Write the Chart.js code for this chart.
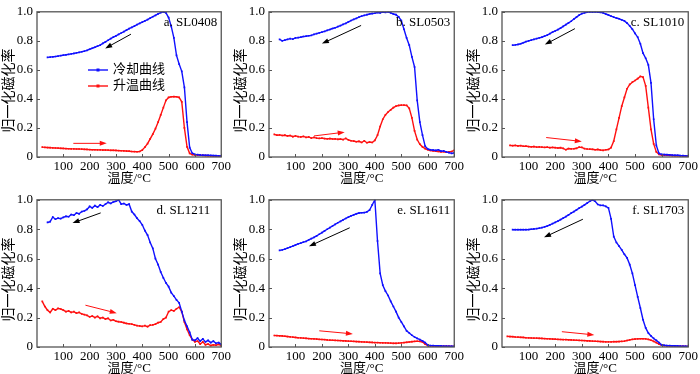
<!DOCTYPE html>
<html>
<head>
<meta charset="utf-8">
<script src="https://cdn.jsdelivr.net/npm/chart.js@4.4.0/dist/chart.umd.min.js"></script>
<style>
  body { margin: 0; background: #fff; }
  #wrap { position: relative; width: 700px; height: 374px; overflow: hidden; }
  #wrap canvas { position: absolute; }
</style>
</head>
<body>
<div id="wrap"></div>
<script>
// temperature grid (°C), shared by every curve
const temps = [20, 30, 40, 50, 60, 70, 80, 90, 100, 110,
  120, 130, 140, 150, 160, 170, 180, 190, 200, 210,
  220, 230, 240, 250, 260, 270, 280, 290, 300, 310,
  320, 330, 340, 350, 360, 370, 380, 390, 400, 410,
  420, 430, 440, 450, 460, 470, 480, 490, 500, 510,
  520, 530, 540, 550, 560, 570, 580, 590, 600, 610,
  620, 630, 640, 650, 660, 670, 680, 690, 700];

const xTicks = [100, 200, 300, 400, 500, 600, 700];
const yTicks = [0, 0.2, 0.4, 0.6, 0.8, 1.0];
const seriesNames = ['冷却曲线', '升温曲线'];
const sampleNames = ['a. SL0408', 'b. SL0503', 'c. SL1010', 'd. SL1211', 'e. SL1611', 'f. SL1703'];

// cooling curves (blue)
const coolA = [null, null, 0.686, 0.688, 0.690, 0.692, 0.695, 0.698, 0.701, 0.704,
  0.707, 0.710, 0.713, 0.717, 0.721, 0.725, 0.729, 0.734, 0.742, 0.749,
  0.756, 0.763, 0.771, 0.782, 0.793, 0.804, 0.815, 0.825, 0.834, 0.844,
  0.854, 0.864, 0.874, 0.884, 0.893, 0.902, 0.911, 0.920, 0.929, 0.938,
  0.946, 0.956, 0.966, 0.976, 0.986, 0.994, 1.0, 0.993, 0.96, 0.90,
  0.82, 0.70, 0.64, 0.59, 0.48, 0.24, 0.065, 0.026, 0.018, 0.016,
  0.014, 0.013, 0.012, 0.012, 0.011, 0.010, 0.009, 0.008, 0.007];
const coolB = [null, null, 0.81, 0.80, 0.805, 0.81, 0.815, 0.812, 0.82, 0.822,
  0.825, 0.83, 0.832, 0.835, 0.838, 0.845, 0.85, 0.855, 0.86, 0.865,
  0.872, 0.878, 0.885, 0.89, 0.898, 0.905, 0.913, 0.92, 0.93, 0.94,
  0.948, 0.955, 0.963, 0.97, 0.975, 0.98, 0.985, 0.988, 0.99, 0.995,
  0.993, 0.998, 0.996, 1.0, 0.992, 0.985, 0.98, 0.965, 0.94, 0.88,
  0.82, 0.77, 0.69, 0.62, 0.39, 0.24, 0.15, 0.075, 0.055, 0.05,
  0.048, 0.045, 0.05, 0.04, 0.042, 0.035, 0.03, 0.025, 0.028];
const coolC = [null, null, 0.77, 0.772, 0.775, 0.78, 0.787, 0.795, 0.80, 0.805,
  0.81, 0.815, 0.82, 0.825, 0.832, 0.84, 0.85, 0.86, 0.868, 0.877,
  0.888, 0.90, 0.912, 0.924, 0.935, 0.95, 0.963, 0.977, 0.987, 0.993,
  0.997, 1.0, 0.998, 1.0, 0.997, 0.996, 0.993, 0.985, 0.978, 0.97,
  0.963, 0.957, 0.952, 0.945, 0.937, 0.922, 0.903, 0.88, 0.852, 0.825,
  0.78, 0.715, 0.68, 0.635, 0.51, 0.26, 0.08, 0.025, 0.018, 0.017,
  0.016, 0.015, 0.013, 0.012, 0.012, 0.01, 0.009, 0.008, 0.007];
const coolD = [null, null, 0.846, 0.852, 0.883, 0.868, 0.875, 0.872, 0.88, 0.888,
  0.885, 0.9, 0.895, 0.91, 0.905, 0.92, 0.925, 0.935, 0.955, 0.945,
  0.96, 0.95, 0.965, 0.958, 0.97, 0.983, 0.975, 0.985, 0.99, 1.0,
  0.97, 0.975, 0.965, 0.97, 0.92, 0.9, 0.875, 0.855, 0.83, 0.79,
  0.76, 0.71, 0.67, 0.6, 0.56, 0.51, 0.47, 0.435, 0.41, 0.37,
  0.345, 0.32, 0.3, 0.24, 0.18, 0.14, 0.1, 0.05, 0.045, 0.06,
  0.04, 0.055, 0.035, 0.045, 0.03, 0.04, 0.025, 0.03, 0.018];
const coolE = [null, null, 0.656, 0.66, 0.665, 0.672, 0.678, 0.685, 0.693, 0.70,
  0.706, 0.712, 0.718, 0.727, 0.736, 0.745, 0.755, 0.766, 0.777, 0.789,
  0.80, 0.811, 0.822, 0.833, 0.844, 0.854, 0.864, 0.873, 0.882, 0.891,
  0.898, 0.905, 0.91, 0.912, 0.913, 0.918, 0.93, 0.965, 1.0, 0.72,
  0.50, 0.42, 0.38, 0.35, 0.31, 0.275, 0.24, 0.2, 0.17, 0.14,
  0.11, 0.095, 0.08, 0.068, 0.058, 0.05, 0.042, 0.03, 0.013, 0.01,
  0.009, 0.008, 0.008, 0.007, 0.006, 0.006, 0.005, 0.005, 0.004];
const coolF = [null, null, 0.797, 0.797, 0.797, 0.797, 0.797, 0.797, 0.798, 0.80,
  0.802, 0.804, 0.807, 0.811, 0.816, 0.822, 0.83, 0.838, 0.846, 0.855,
  0.865, 0.876, 0.886, 0.897, 0.909, 0.92, 0.932, 0.943, 0.954, 0.965,
  0.977, 0.99, 1.0, 0.99, 0.968, 0.962, 0.962, 0.955, 0.945, 0.87,
  0.75, 0.71, 0.685, 0.66, 0.63, 0.605, 0.56, 0.5, 0.42, 0.34,
  0.265, 0.185, 0.13, 0.095, 0.075, 0.058, 0.045, 0.03, 0.015, 0.012,
  0.01, 0.009, 0.008, 0.008, 0.007, 0.006, 0.005, 0.005, 0.004];

// heating curves (red)
const heatA = [0.068, 0.066, 0.065, 0.064, 0.063, 0.062, 0.061, 0.060, 0.059, 0.058,
  0.057, 0.056, 0.056, 0.055, 0.055, 0.054, 0.053, 0.052, 0.051, 0.050,
  0.050, 0.049, 0.049, 0.048, 0.048, 0.047, 0.046, 0.046, 0.045, 0.044,
  0.043, 0.042, 0.041, 0.040, 0.038, 0.037, 0.036, 0.038, 0.048, 0.068,
  0.092, 0.125, 0.158, 0.195, 0.24, 0.29, 0.34, 0.39, 0.41, 0.415,
  0.416, 0.415, 0.41, 0.38, 0.20, 0.07, 0.025, 0.017, 0.014, 0.013,
  0.012, 0.011, 0.010, 0.009, 0.008, 0.007, 0.006, 0.006, 0.005];
const heatB = [0.156, 0.15, 0.152, 0.148, 0.15, 0.145, 0.148, 0.14, 0.145, 0.14,
  0.138, 0.142, 0.135, 0.138, 0.13, 0.135, 0.13, 0.128, 0.13, 0.127,
  0.125, 0.127, 0.124, 0.125, 0.122, 0.124, 0.12, 0.128, 0.118, 0.112,
  0.11, 0.105, 0.108, 0.10, 0.112, 0.098, 0.103, 0.10, 0.115, 0.15,
  0.21, 0.26, 0.29, 0.31, 0.325, 0.34, 0.35, 0.355, 0.357, 0.357,
  0.356, 0.335, 0.27, 0.18, 0.12, 0.088, 0.07, 0.058, 0.05, 0.045,
  0.042, 0.04, 0.038, 0.035, 0.036, 0.033, 0.035, 0.038, 0.045];
const heatC = [null, 0.08, 0.078, 0.08, 0.076, 0.078, 0.074, 0.075, 0.072, 0.07,
  0.072, 0.068, 0.07, 0.068, 0.066, 0.068, 0.064, 0.066, 0.064, 0.062,
  0.064, 0.06, 0.05, 0.058, 0.056, 0.057, 0.06, 0.068, 0.066, 0.058,
  0.055, 0.054, 0.053, 0.05, 0.052, 0.048, 0.046, 0.05, 0.052, 0.065,
  0.11, 0.19, 0.27, 0.35, 0.41, 0.47, 0.50, 0.515, 0.527, 0.54,
  0.555, 0.55, 0.49, 0.34, 0.19, 0.09, 0.035, 0.018, 0.014, 0.013,
  0.012, 0.011, 0.01, 0.009, 0.009, 0.008, 0.007, 0.007, 0.006];
const heatD = [0.31, 0.275, 0.25, 0.235, 0.26, 0.25, 0.262, 0.258, 0.25, 0.24,
  0.245, 0.235, 0.24, 0.23, 0.235, 0.225, 0.22, 0.215, 0.205, 0.21,
  0.2, 0.208, 0.195, 0.2, 0.19, 0.195, 0.18, 0.185, 0.175, 0.172,
  0.17, 0.165, 0.16, 0.158, 0.155, 0.15, 0.145, 0.143, 0.14, 0.145,
  0.138, 0.148, 0.15, 0.155, 0.165, 0.17, 0.19, 0.2, 0.24, 0.25,
  0.245, 0.26, 0.27, 0.24, 0.17, 0.12, 0.08, 0.05, 0.035, 0.04,
  0.02, 0.035, 0.015, 0.02, 0.01, 0.015, 0.012, 0.018, 0.01];
const heatE = [0.078, 0.077, 0.076, 0.075, 0.073, 0.071, 0.069, 0.067, 0.065, 0.063,
  0.062, 0.06, 0.059, 0.057, 0.056, 0.055, 0.054, 0.052, 0.051, 0.05,
  0.048, 0.047, 0.046, 0.045, 0.044, 0.043, 0.042, 0.041, 0.04, 0.039,
  0.038, 0.037, 0.036, 0.035, 0.034, 0.033, 0.032, 0.031, 0.03, 0.03,
  0.029, 0.028, 0.028, 0.027, 0.026, 0.025, 0.025, 0.026, 0.028, 0.03,
  0.032, 0.034, 0.036, 0.038, 0.039, 0.038, 0.034, 0.02, 0.01, 0.008,
  0.007, 0.007, 0.006, 0.006, 0.005, 0.005, 0.005, 0.004, 0.004];
const heatF = [0.072, 0.071, 0.07, 0.068, 0.067, 0.066, 0.065, 0.063, 0.062, 0.061,
  0.06, 0.06, 0.059, 0.058, 0.057, 0.056, 0.055, 0.054, 0.053, 0.052,
  0.051, 0.05, 0.05, 0.049, 0.048, 0.047, 0.046, 0.045, 0.044, 0.043,
  0.042, 0.041, 0.04, 0.039, 0.038, 0.037, 0.036, 0.035, 0.035, 0.035,
  0.036, 0.036, 0.037, 0.038, 0.04, 0.044, 0.048, 0.052, 0.054, 0.055,
  0.056, 0.056, 0.055, 0.052, 0.046, 0.038, 0.03, 0.02, 0.012, 0.009,
  0.008, 0.007, 0.007, 0.006, 0.006, 0.005, 0.005, 0.004, 0.004];

const coolSeries = [coolA, coolB, coolC, coolD, coolE, coolF];
const heatSeries = [heatA, heatB, heatC, heatD, heatE, heatF];

// arrow annotations in data units: [t0, v0, t1, v1]
const coolArrows = [[357, 0.846, 259, 0.748], [348, 0.906, 200, 0.781], [274, 0.884, 161, 0.774],
  [242, 0.911, 135, 0.842], [305, 0.81, 151, 0.684], [304, 0.868, 158, 0.745]];
const heatArrows = [[138, 0.094, 265, 0.094], [170, 0.145, 286, 0.171], [166, 0.134, 300, 0.107],
  [184, 0.284, 303, 0.23], [190, 0.11, 317, 0.089], [225, 0.104, 347, 0.082]];

// layout
const canvasLeft = [0, 232, 465];
const canvasW = [233, 234, 235];
const canvasTop = [0, 188];
const canvasH = [187, 186];
const axisH = [30, 27];

const BLUE = '#1010ff';
const RED = '#ff1010';
const SERIF = "'Liberation Serif', 'Noto Sans CJK SC', serif";
const CJK = "'Liberation Serif', 'Noto Sans CJK SC', sans-serif";

function pts(vals) {
  return temps.map((t, i) => ({ x: t, y: vals[i] })).filter(p => p.y !== null);
}

function arrow(ctx, x0, y0, x1, y1, color) {
  const ang = Math.atan2(y1 - y0, x1 - x0);
  const hl = 7, hw = 2.5;
  ctx.strokeStyle = color;
  ctx.fillStyle = color;
  ctx.lineWidth = 1;
  ctx.beginPath();
  ctx.moveTo(x0, y0);
  ctx.lineTo(x1 - hl * 0.8 * Math.cos(ang), y1 - hl * 0.8 * Math.sin(ang));
  ctx.stroke();
  ctx.beginPath();
  ctx.moveTo(x1, y1);
  ctx.lineTo(x1 - hl * Math.cos(ang) + hw * Math.sin(ang), y1 - hl * Math.sin(ang) - hw * Math.cos(ang));
  ctx.lineTo(x1 - hl * Math.cos(ang) - hw * Math.sin(ang), y1 - hl * Math.sin(ang) + hw * Math.cos(ang));
  ctx.closePath();
  ctx.fill();
}

const decor = {
  id: 'decor',
  afterDatasetsDraw(chart, args, o) {
    const { ctx, chartArea: a, scales: { x, y } } = chart;
    ctx.save();
    // inward ticks
    ctx.strokeStyle = '#555';
    ctx.lineWidth = 1;
    ctx.beginPath();
    xTicks.forEach(t => {
      const px = Math.round(x.getPixelForValue(t)) + 0.5;
      ctx.moveTo(px, a.bottom); ctx.lineTo(px, a.bottom - 3);
    });
    yTicks.forEach(v => {
      const py = Math.round(y.getPixelForValue(v)) + 0.5;
      ctx.moveTo(a.left, py); ctx.lineTo(a.left + 3, py);
    });
    ctx.stroke();
    // frame
    ctx.strokeStyle = '#555';
    ctx.lineWidth = 1.3;
    ctx.strokeRect(a.left, a.top, a.width, a.height);

    // arrows
    const c = o.coolArrow, h = o.heatArrow;
    arrow(ctx, x.getPixelForValue(c[0]), y.getPixelForValue(c[1]),
      x.getPixelForValue(c[2]), y.getPixelForValue(c[3]), '#000');
    arrow(ctx, x.getPixelForValue(h[0]), y.getPixelForValue(h[1]),
      x.getPixelForValue(h[2]), y.getPixelForValue(h[3]), RED);

    // sample label
    ctx.fillStyle = '#000';
    ctx.font = '13px ' + SERIF;
    ctx.textAlign = 'right';
    ctx.textBaseline = 'middle';
    ctx.fillText(o.name, a.right - o.labelPad, a.top + 11);

    // axis titles
    ctx.textAlign = 'center';
    ctx.font = '13px ' + CJK;
    ctx.fillText('温度/°C', (a.left + a.right) / 2, a.bottom + 22);
    ctx.save();
    ctx.translate(9, (a.top + a.bottom) / 2 + 6);
    ctx.rotate(-Math.PI / 2);
    ctx.font = '14px ' + CJK;
    ctx.fillText('归一化磁化率', 0, 0);
    ctx.restore();

    // legend (only first panel)
    if (o.legend) {
      const items = [[seriesNames[0], BLUE, 70], [seriesNames[1], RED, 86]];
      items.forEach(([txt, col, ly]) => {
        ctx.strokeStyle = col;
        ctx.lineWidth = 1.4;
        ctx.beginPath();
        ctx.moveTo(88, ly); ctx.lineTo(108, ly);
        ctx.stroke();
        ctx.fillStyle = col;
        ctx.fillRect(96.5, ly - 1.5, 3, 3);
        ctx.fillStyle = '#000';
        ctx.textAlign = 'left';
        ctx.font = '13px ' + CJK;
        ctx.fillText(txt, 113, ly);
      });
    }
    ctx.restore();
  }
};

function makePanel(i) {
  const col = i % 3, row = Math.floor(i / 3);
  const cv = document.createElement('canvas');
  const w = canvasW[col], h = canvasH[row];
  cv.width = w; cv.height = h;
  cv.style.left = canvasLeft[col] + 'px';
  cv.style.top = canvasTop[row] + 'px';
  cv.style.width = w + 'px';
  cv.style.height = h + 'px';
  document.getElementById('wrap').appendChild(cv);

  const line = (vals, color) => ({
    data: pts(vals),
    borderColor: color,
    backgroundColor: color,
    borderWidth: 1.4,
    pointRadius: 1.2,
    pointStyle: 'rect',
    pointBorderWidth: 0,
    pointBackgroundColor: color,
    tension: 0
  });

  new Chart(cv, {
    type: 'line',
    data: { datasets: [line(coolSeries[i], BLUE), line(heatSeries[i], RED)] },
    options: {
      responsive: false,
      animation: false,
      devicePixelRatio: 1,
      layout: { padding: { top: 5, right: 7, left: 0, bottom: 0 } },
      plugins: {
        legend: { display: false },
        tooltip: { enabled: false },
        decor: {
          name: sampleNames[i],
          coolArrow: coolArrows[i],
          heatArrow: heatArrows[i],
          legend: i === 0,
          labelPad: i === 3 ? 11 : 4
        }
      },
      scales: {
        x: {
          type: 'linear', min: 0, max: 700,
          grid: { display: false, drawTicks: false },
          border: { display: false },
          afterBuildTicks: s => { s.ticks = [0].concat(xTicks).map(v => ({ value: v })); },
          afterFit: s => { s.height = axisH[row]; },
          ticks: {
            padding: 2, color: '#000', autoSkip: false, maxRotation: 0,
            font: { family: SERIF, size: 13 },
            callback: v => (v === 0 ? '' : v)
          }
        },
        y: {
          min: 0, max: 1,
          grid: { display: false, drawTicks: false },
          border: { display: false },
          afterBuildTicks: s => { s.ticks = yTicks.map(v => ({ value: v })); },
          afterFit: s => { s.width = 37; },
          ticks: {
            padding: 4, color: '#000',
            font: { family: SERIF, size: 13 },
            callback: v => (v === 0 ? '0' : v.toFixed(1))
          }
        }
      }
    },
    plugins: [decor]
  });
}

for (let i = 0; i < 6; i++) makePanel(i);
</script>
</body>
</html>
